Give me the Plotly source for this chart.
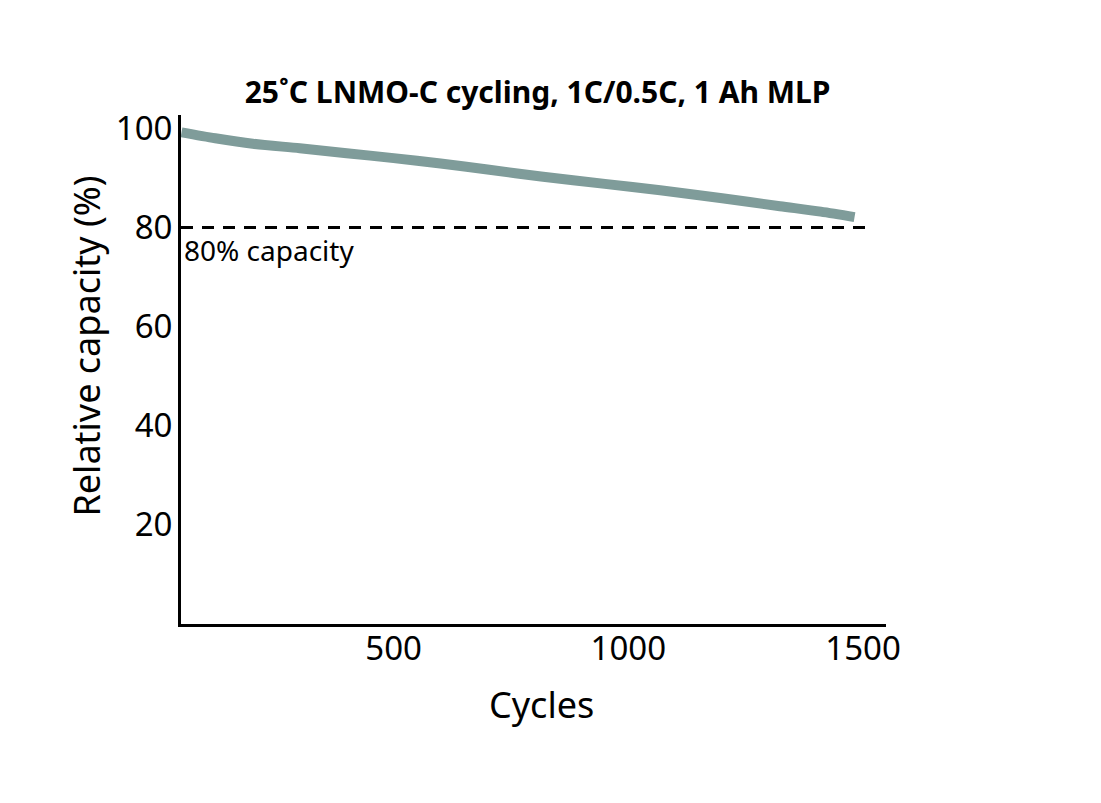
import plotly.graph_objects as go

# capacity retention
cycles = [48, 120, 200, 300, 400, 500, 600, 700, 814, 950, 1068, 1200, 1323, 1410, 1482]
capacity = [99.2, 98.0, 96.9, 96.0, 95.0, 94.0, 92.9, 91.7, 90.3, 88.8, 87.5, 85.9, 84.3, 83.2, 82.1]

eol_x = [47, 1508]
eol_y = [80, 80]

y_ticks = [20, 40, 60, 80, 100]
x_ticks = [500, 1000, 1500]

FONT = "Noto Sans"

fig = go.Figure()

fig.add_trace(go.Scatter(
    x=eol_x, y=eol_y, mode="lines",
    line=dict(color="black", width=3, dash="12px,9px"),
    showlegend=False, hoverinfo="skip"
))

fig.add_trace(go.Scatter(
    x=cycles, y=capacity, mode="lines",
    line=dict(color="#7f9c9a", width=10, shape="spline", smoothing=0.8),
    showlegend=False
))

fig.add_annotation(
    x=50, y=80, xref="x", yref="y", text="80% capacity",
    showarrow=False, xanchor="left", yanchor="top", yshift=-1,
    font=dict(family=FONT, size=28, color="black")
)

# axis titles placed by hand, they are not centred on the axes in the original
fig.add_annotation(
    x=0, y=0.545, xref="paper", yref="paper", xshift=-94,
    text="Relative capacity (%)", textangle=-90, showarrow=False,
    xanchor="center", yanchor="middle",
    font=dict(family=FONT, size=36, color="black")
)
fig.add_annotation(
    x=0.512, y=0, xref="paper", yref="paper", yshift=-80,
    text="Cycles", showarrow=False,
    xanchor="center", yanchor="middle",
    font=dict(family=FONT, size=36, color="black")
)

fig.update_layout(
    width=1101, height=803,
    paper_bgcolor="white", plot_bgcolor="white",
    margin=dict(l=173, r=223, t=107, b=187),
    title=dict(
        text="<b>25˚C LNMO-C cycling, 1C/0.5C, 1 Ah MLP</b>",
        x=0.481, xanchor="center", y=0.895, yanchor="middle",
        font=dict(family=FONT, size=30, color="black")
    ),
    font=dict(family=FONT, color="black"),
)

fig.update_xaxes(
    range=[47, 1549], tickvals=x_ticks,
    showgrid=False, zeroline=False,
    showline=True, linecolor="black", linewidth=3,
    ticks="", tickfont=dict(size=33), ticklabelstandoff=-7,
)

fig.update_yaxes(
    range=[0, 102.7], tickvals=y_ticks,
    showgrid=False, zeroline=False,
    showline=True, linecolor="black", linewidth=3,
    ticks="", tickfont=dict(size=33), ticklabelstandoff=-1,
)

fig.write_html("out.html")
